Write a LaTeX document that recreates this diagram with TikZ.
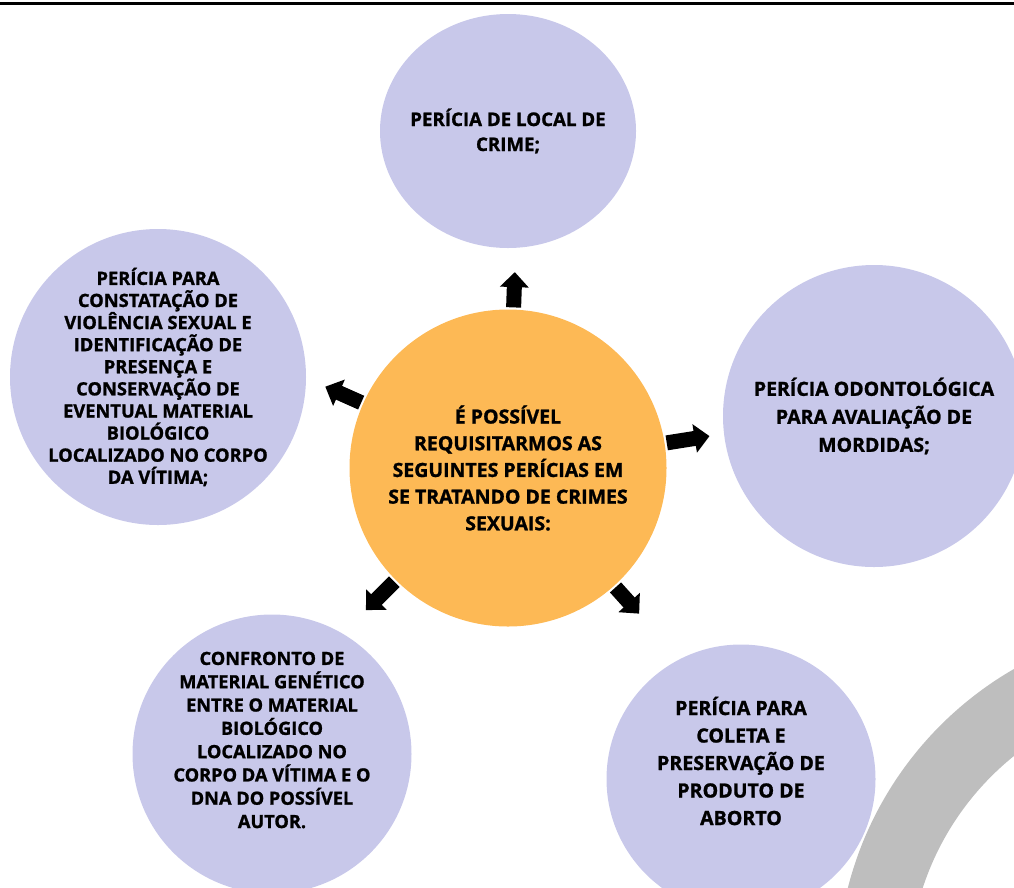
\documentclass[tikz,border=0pt]{standalone}
\usepackage{fontspec}
\setmainfont{Open Sans}[BoldFeatures={FakeBold=1.2}]
\usetikzlibrary{arrows.meta,shapes.geometric,calc}
\definecolor{lavanda}{RGB}{200,200,234}
\definecolor{laranja}{RGB}{253,185,85}
\definecolor{cinza}{RGB}{190,190,190}
\newcommand{\fs}[2]{\bfseries\fontsize{#1}{#2}\selectfont}
\tikzset{
  bolha/.style={circle,fill=lavanda,inner sep=0pt,align=center},
  texto/.style n args={2}{align=center,font=\fs{#1}{#2}},
  seta/.style={line width=15pt,-{Triangle[width=28pt,length=15pt]},shorten <=2pt}
}

\begin{document}
\begin{tikzpicture}[x=1pt,y=-1pt]
   \useasboundingbox (0,0) rectangle (1014,887);
   \clip (0,0) rectangle (1014,887);
   \draw[line width=3pt] (0,3.5) -- (1014,3.5);
   \draw[cinza,line width=72pt] (1190,975) circle (317pt);
   % bolhas
   \node[bolha,ellipse,minimum width=256pt,minimum height=234pt,label={[texto={18.7}{25}]center:PERÍCIA DE LOCAL DE\\CRIME;}] (local) at (508,131) {};
   \node[bolha,minimum size=296pt,label={[texto={18.3}{22.1}]center:PERÍCIA PARA\\CONSTATAÇÃO DE\\VIOLÊNCIA SEXUAL E\\IDENTIFICAÇÃO DE\\PRESENÇA E\\CONSERVAÇÃO DE\\EVENTUAL MATERIAL\\BIOLÓGICO\\LOCALIZADO NO CORPO\\DA VÍTIMA;}] (violencia) at (158,377) {};
   \node[bolha,minimum size=302pt,label={[texto={19.5}{28}]center:PERÍCIA ODONTOLÓGICA\\PARA AVALIAÇÃO DE\\MORDIDAS;}] (mordidas) at (874,416) {};
   \node[bolha,minimum size=279pt,label={[texto={18.2}{23.3},yshift=14pt]center:CONFRONTO DE\\MATERIAL GENÉTICO\\ENTRE O MATERIAL\\BIOLÓGICO\\LOCALIZADO NO\\CORPO DA VÍTIMA E O\\DNA DO POSSÍVEL\\AUTOR.}] (dna) at (272,754) {};
   \node[bolha,minimum size=269pt,label={[texto={19.6}{27.5},yshift=18pt]center:PERÍCIA PARA\\COLETA E\\PRESERVAÇÃO DE\\PRODUTO DE\\ABORTO}] (aborto) at (741,779) {};
   \node[bolha,fill=laranja,minimum size=317pt,texto={19.5}{26.7}] (centro) at (508,468) {É POSSÍVEL\\REQUISITARMOS AS\\SEGUINTES PERÍCIAS EM\\SE TRATANDO DE CRIMES\\SEXUAIS:};
   % setas
   \path (centro) ++(88:196pt) coordinate (pLocal);
   \path (centro) ++(156:200pt) coordinate (pViolencia);
   \path (centro) ++(9:204pt) coordinate (pMordidas);
   \path (centro) ++(225:201pt) coordinate (pDna);
   \path (centro) ++(312:196pt) coordinate (pAborto);
   \draw[seta] (centro) -- (pLocal);
   \draw[seta] (centro) -- (pViolencia);
   \draw[seta] (centro) -- (pMordidas);
   \draw[seta] (centro) -- (pDna);
   \draw[seta] (centro) -- (pAborto);
\end{tikzpicture}
\end{document}
